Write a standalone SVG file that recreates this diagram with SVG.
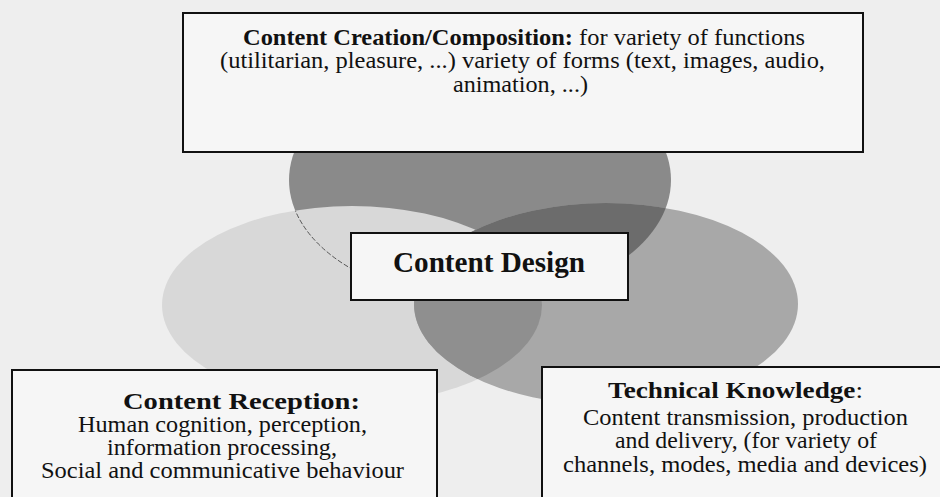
<svg xmlns="http://www.w3.org/2000/svg" width="940" height="497" viewBox="0 0 940 497">
<style>
  .box { fill: #f6f6f6; stroke: #111; stroke-width: 2; }
  .t { font-family: "Liberation Serif", "Times New Roman", serif; fill: #111; }
  .b { font-weight: bold; }
  .s20 { font-size: 22.5px; }
  .s22 { font-size: 22.5px; }
</style>
<defs>
  <clipPath id="clipRight"><ellipse cx="606" cy="304" rx="192" ry="101"/></clipPath>
  <clipPath id="clipLight"><ellipse cx="352" cy="305" rx="190" ry="99"/></clipPath>
</defs>
<rect x="0" y="0" width="940" height="497" fill="#eeeeee"/>

<g id="venn">
  <ellipse id="dark" cx="480" cy="180" rx="191" ry="120" fill="#8a8a8a"/>
  <ellipse id="light" cx="352" cy="305" rx="190" ry="99" fill="#d8d8d8"/>
  <ellipse cx="480" cy="180" rx="191" ry="120" fill="none" stroke="#555" stroke-width="1" stroke-dasharray="5 2" clip-path="url(#clipLight)"/>
  <ellipse id="right" cx="606" cy="304" rx="192" ry="101" fill="#a8a8a8"/>
  <g clip-path="url(#clipRight)">
    <ellipse cx="352" cy="305" rx="190" ry="99" fill="#8f8f8f"/>
    <ellipse cx="480" cy="180" rx="191" ry="120" fill="#6c6c6c"/>
  </g>
</g>

<g id="connectors"/>

<g id="creation">
  <rect class="box" x="183" y="13" width="680" height="139"/>
  <text class="t s20" x="524" y="45" text-anchor="middle" textLength="562" lengthAdjust="spacingAndGlyphs"><tspan class="b">Content Creation/Composition:</tspan> for variety of functions</text>
  <text class="t s20" x="522.5" y="68" text-anchor="middle" textLength="605" lengthAdjust="spacingAndGlyphs">(utilitarian, pleasure, ...) variety of forms (text, images, audio,</text>
  <text class="t s20" x="520.5" y="92" text-anchor="middle" textLength="135" lengthAdjust="spacingAndGlyphs">animation, ...)</text>
</g>

<g id="design">
  <rect class="box" x="351" y="233" width="277" height="67"/>
  <text class="t b" x="489" y="272" font-size="30" text-anchor="middle" textLength="192" lengthAdjust="spacingAndGlyphs">Content Design</text>
</g>

<g id="reception">
  <rect class="box" x="12" y="370" width="425" height="140"/>
  <text class="t s22 b" x="241.5" y="409" text-anchor="middle" textLength="237" lengthAdjust="spacingAndGlyphs">Content Reception:</text>
  <text class="t s22" x="222.5" y="432" text-anchor="middle" textLength="289" lengthAdjust="spacingAndGlyphs">Human cognition, perception,</text>
  <text class="t s22" x="222" y="455" text-anchor="middle" textLength="230" lengthAdjust="spacingAndGlyphs">information processing,</text>
  <text class="t s22" x="222.5" y="478" text-anchor="middle" textLength="363" lengthAdjust="spacingAndGlyphs">Social and communicative behaviour</text>
</g>

<g id="technical">
  <rect class="box" x="542" y="367" width="410" height="140"/>
  <text class="t s22" x="735.5" y="398" text-anchor="middle" textLength="255" lengthAdjust="spacingAndGlyphs"><tspan class="b">Technical Knowledge</tspan>:</text>
  <text class="t s22" x="745.5" y="425" text-anchor="middle" textLength="325" lengthAdjust="spacingAndGlyphs">Content transmission, production</text>
  <text class="t s22" x="746" y="448" text-anchor="middle" textLength="262" lengthAdjust="spacingAndGlyphs">and delivery, (for variety of</text>
  <text class="t s22" x="745" y="472" text-anchor="middle" textLength="364" lengthAdjust="spacingAndGlyphs">channels, modes, media and devices)</text>
</g>
</svg>
